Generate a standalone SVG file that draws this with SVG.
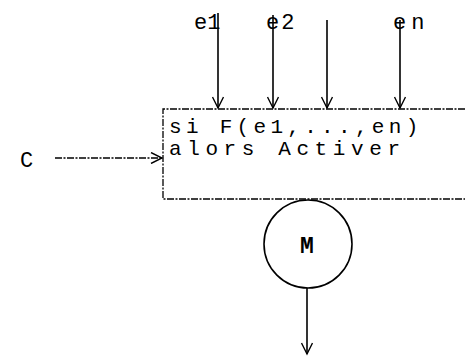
<svg xmlns="http://www.w3.org/2000/svg" width="465" height="358" viewBox="0 0 465 358">
<style>
.t{font-family:"Liberation Mono",monospace;fill:#000}
.ln{stroke:#000;stroke-width:1.6;fill:none}
.dl{stroke:#000;stroke-width:1.3;fill:none;stroke-dasharray:7 1.5 2 1.5}
</style>
<defs>
<marker id="ah" markerWidth="14" markerHeight="12" refX="12" refY="6" orient="auto" markerUnits="userSpaceOnUse">
<path d="M1,0.5 L12,6 L1,11.5" fill="none" stroke="#000" stroke-width="1.4"/>
</marker>
</defs>
<rect width="465" height="358" fill="#fff"/>
<g id="inputs-labels">
<text class="t" x="194" y="29" font-size="22">e1</text>
<text class="t" x="266" y="29" font-size="22" letter-spacing="2">e2</text>
<text class="t" x="393" y="29" font-size="22" letter-spacing="5">en</text>
</g>
<g id="node-C"><text class="t" x="20" y="167" font-size="22">C</text></g>
<g id="node-box">
<path class="dl" d="M465,109 L163,109 L163,199 L465,199"/>
<text class="t" x="169" y="133" font-size="21" letter-spacing="4.3">si F(e1,...,en)</text>
<text class="t" x="169" y="155" font-size="21" letter-spacing="5.6">alors Activer</text>
</g>
<g id="node-M">
<circle cx="308" cy="244" r="44" class="ln"/>
<text class="t" x="307" y="253" font-size="23" text-anchor="middle" font-weight="bold">M</text>
</g>
<g id="connectors">
<line class="ln" x1="218" y1="13" x2="218" y2="108" marker-end="url(#ah)"/>
<line class="ln" x1="273" y1="15" x2="273" y2="108" marker-end="url(#ah)" stroke-width="2"/>
<line class="ln" x1="327" y1="20" x2="327" y2="108" marker-end="url(#ah)"/>
<line class="ln" x1="400" y1="20" x2="400" y2="108" marker-end="url(#ah)" stroke-width="2"/>
<line class="dl" x1="55" y1="158" x2="162" y2="158" marker-end="url(#ah)"/>
<line class="ln" x1="307" y1="288" x2="307" y2="354" marker-end="url(#ah)" stroke-width="2"/>
</g>
</svg>
